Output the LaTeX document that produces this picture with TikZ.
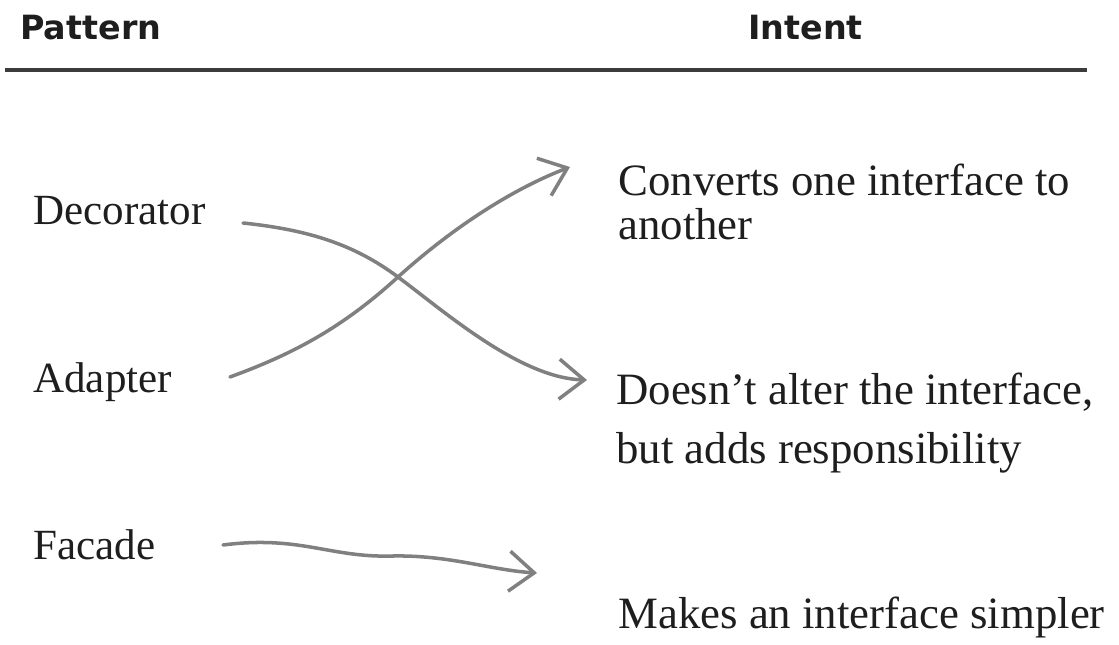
\documentclass[tikz,border=0pt]{standalone}
\usepackage{fontspec}
\setmainfont{Liberation Serif}
\setsansfont{DejaVu Sans}
\usetikzlibrary{positioning,arrows.meta}
\definecolor{HFInk}{HTML}{1E1E1E}
\definecolor{HFGray}{HTML}{808080}
\definecolor{HFRule}{HTML}{3C3C3C}

\begin{document}
\begin{tikzpicture}[x=0.02cm,y=-0.02cm,>={Straight Barb[length=5mm,width=8mm]}]
  \tikzstyle{colhead}=[inner sep=0pt,anchor=base west,text=HFInk,
    font=\sffamily\bfseries\fontsize{19}{23}\selectfont]
  \tikzstyle{pname}=[inner sep=0pt,anchor=base west,text=HFInk,
    font=\fontsize{24.5}{28}\selectfont]
  \tikzstyle{intent}=[inner sep=0pt,anchor=base west,align=left,text=HFInk,
    font=\fontsize{25.5}{25.5}\selectfont]
  \tikzstyle{link}=[->,draw=HFGray,line width=2pt,line cap=round]
  \useasboundingbox (0,0) rectangle (1119,645);

  % column heads and rule
  \node[colhead] (pattern) at (20,40) {Pattern};
  \node[colhead] (intent) at (748,40) {Intent};
  \draw[HFRule,line width=2.2pt] (5,70) -- (1087,70);

  % patterns
  \node[pname] (deco) at (33,225) {Decorator};
  \node[pname,below=3.36cm of deco.base west,anchor=base west] (adapt) {Adapter};
  \node[pname,below=3.34cm of adapt.base west,anchor=base west] (facade) {Facade};

  % intents (base is the last line)
  \node[intent] (convert) at (618,240) {Converts one interface to\\another};
  \node[intent] (noalter) at (616,463) {Doesn't alter the interface,\\[8pt]but adds responsibility};
  \node[intent] (simpler) at (618,628) {Makes an interface simpler};

  % ends of the hand drawn arrows
  \coordinate (decoOut) at (243,223);
  \coordinate (decoIn) at (587,380);
  \coordinate (adaptOut) at (230,377);
  \coordinate (adaptIn) at (570,167);
  \coordinate (facadeOut) at (223,545);
  \coordinate (facadeIn) at (537,573);

  \draw[link] (decoOut) .. controls (310,230) and (355,245) .. (398,277)
    .. controls (445,312) and (520,378) .. (decoIn);
  \draw[link] (adaptOut) .. controls (290,355) and (340,330) .. (398,277)
    .. controls (450,230) and (510,190) .. (adaptIn);
  \draw[link] (facadeOut) .. controls (300,535) and (330,558) .. (393,556)
    .. controls (450,555) and (490,570) .. (facadeIn);
\end{tikzpicture}
\end{document}
